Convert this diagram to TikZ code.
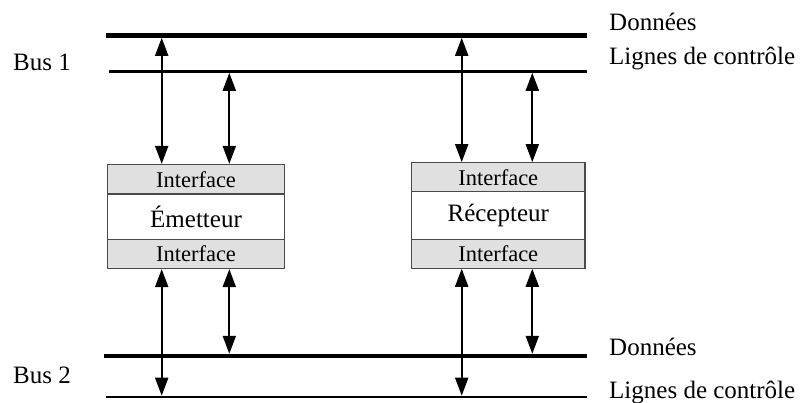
\documentclass[tikz,border=0pt]{standalone}
\usepackage{fontspec}
\setmainfont{Liberation Serif}
\usetikzlibrary{arrows.meta}
\definecolor{ifgray}{HTML}{E0E0E0}
\definecolor{edgegray}{HTML}{4A4A4A}
\begin{document}
\begin{tikzpicture}[x=1pt,y=-1pt,
  part/.style={draw=edgegray,line width=1.2pt,minimum width=177pt,inner sep=0pt,anchor=center},
  iface/.style={part,fill=ifgray,font=\fontsize{22.5}{26}\selectfont},
  core/.style={part,fill=white,font=\fontsize{25}{30}\selectfont},
  lbl/.style={anchor=base west,inner sep=0pt,font=\fontsize{25}{30}\selectfont},
  thickbus/.style={line width=4.5pt},
  thinbus/.style={line width=2.6pt},
  arr/.style={line width=2pt,{Triangle[length=18pt,width=13pt]}-{Triangle[length=18pt,width=13pt]}}
]
\useasboundingbox (0,0) rectangle (808,403);

% buses
\coordinate (d1s) at (106,35.5);   \coordinate (d1e) at (587,35.5);
\coordinate (c1s) at (109,71.5);   \coordinate (c1e) at (587,71.5);
\coordinate (d2s) at (104,356);    \coordinate (d2e) at (587,356);
\coordinate (c2s) at (106,397);    \coordinate (c2e) at (587,397);
\draw[thickbus] (d1s) -- (d1e);
\draw[thinbus]  (c1s) -- (c1e);
\draw[thickbus] (d2s) -- (d2e);
\draw[thinbus]  (c2s) -- (c2e);

% points on the buses for the connectors
\coordinate (d1top) at (0,37.8);
\coordinate (c1top) at (0,72.8);
\coordinate (d2top) at (0,353.8);
\coordinate (c2top) at (0,395.7);
\coordinate (xa) at (161.7,0);
\coordinate (xb) at (229.3,0);
\coordinate (xc) at (461.7,0);
\coordinate (xd) at (532.3,0);

% emetteur
\node[iface,minimum height=29.5pt] (eiT) at (196,179.25) {Interface};
\node[core,minimum height=45.5pt]  (em)  at (196,216.75) {Émetteur};
\node[iface,minimum height=29pt]   (eiB) at (196,254) {Interface};

% recepteur
\node[iface,minimum width=173.5pt,minimum height=29pt] (riT) at (498.25,177.2) {Interface};
\node[core,minimum width=173.5pt,minimum height=48pt]  (rc)  at (498.25,215.7) {Récepteur};
\node[iface,minimum width=173.5pt,minimum height=28.5pt] (riB) at (498.25,253.9) {Interface};

% connectors
\draw[arr] (xa |- d1top) -- (xa |- eiT.north);
\draw[arr] (xb |- c1top) -- (xb |- eiT.north);
\draw[arr] (xa |- eiB.south) -- (xa |- c2top);
\draw[arr] (xb |- eiB.south) -- (xb |- d2top);

\draw[arr] (xc |- d1top) -- (xc |- riT.north);
\draw[arr] (xd |- c1top) -- (xd |- riT.north);
\draw[arr] (xc |- riB.south) -- (xc |- c2top);
\draw[arr] (xd |- riB.south) -- (xd |- d2top);

% labels
\node[lbl] (bus1) at (13,71) {Bus 1};
\node[lbl] (bus2) at (13,383.5) {Bus 2};
\node[lbl] (don1) at (609,31) {Données};
\node[lbl] (lig1) at (609,65) {Lignes de contrôle};
\node[lbl] (don2) at (609,355.5) {Données};
\node[lbl] (lig2) at (609,398) {Lignes de contrôle};
\end{tikzpicture}
\end{document}
